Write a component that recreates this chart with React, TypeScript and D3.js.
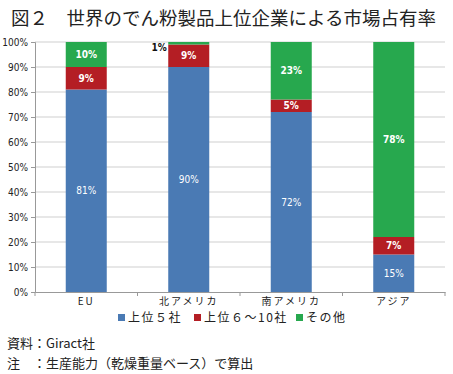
import { useEffect, useRef } from 'react';
import * as d3 from 'd3';

const categories = ['EU', '北アメリカ', '南アメリカ', 'アジア'];
const top5 = [81, 90, 72, 15];
const top6to10 = [9, 9, 5, 7];
const others = [10, 1, 23, 78];
const seriesNames = ['上位５社', '上位６～10社', 'その他'];
const seriesColors = ['#4a7ab4', '#b41e24', '#27a84e'];
const yTicks = [0, 10, 20, 30, 40, 50, 60, 70, 80, 90, 100];

const W = 453;
const H = 374;
const CJK = '"Noto Sans CJK JP", sans-serif';
const NARROW = '"Liberation Sans Narrow", "DejaVu Sans Condensed", sans-serif';

export default function App() {
  const svgRef = useRef<SVGSVGElement>(null);

  useEffect(() => {
    document.body.style.margin = '0';
    if (!svgRef.current) return;
    const svg = d3.select(svgRef.current);
    svg.selectAll('*').remove();

    const m = { top: 42, right: 8, bottom: 82, left: 35 };
    const width = W - m.left - m.right;
    const height = H - m.top - m.bottom;

    svg.append('rect').attr('width', W).attr('height', H).attr('fill', '#fff');

    // タイトル
    svg.append('text')
      .attr('x', 11).attr('y', 25)
      .attr('font-family', CJK).attr('font-size', 18.5).attr('fill', '#222')
      .text('図２　世界のでん粉製品上位企業による市場占有率');

    const g = svg.append('g').attr('transform', `translate(${m.left},${m.top})`);

    const x = d3.scaleBand().domain(categories).range([0, width]).paddingInner(0.6).paddingOuter(0.3);
    const y = d3.scaleLinear().domain([0, 100]).range([height, 0]);

    // グリッド
    g.append('g').selectAll('line').data(yTicks.filter(t => t > 0)).enter().append('line')
      .attr('x1', 0).attr('x2', width)
      .attr('y1', d => y(d)).attr('y2', d => y(d))
      .attr('stroke', '#cfcfcf').attr('stroke-width', 1);

    const rows = categories.map((c, i) => ({ c, vals: [top5[i], top6to10[i], others[i]] }));
    rows.forEach(r => {
      let acc = 0;
      r.vals.forEach((v, k) => {
        const y0 = acc, y1 = acc + v;
        acc = y1;
        g.append('rect')
          .attr('x', x(r.c)!).attr('width', x.bandwidth())
          .attr('y', y(y1)).attr('height', y(y0) - y(y1))
          .attr('fill', seriesColors[k]);
        const small = v < 3;
        g.append('text')
          .attr('x', small ? x(r.c)! - 9 : x(r.c)! + x.bandwidth() / 2)
          .attr('y', small ? y(y1) + 9 : y((y0 + y1) / 2) + 3.5)
          .attr('text-anchor', 'middle')
          .attr('font-family', NARROW).attr('font-size', 10)
          .attr('font-weight', k === 0 ? 'normal' : 'bold')
          .attr('fill', small ? '#111' : '#fff')
          .text(`${v}%`);
      });
    });

    // Y軸
    const yAxis = g.append('g')
      .call(d3.axisLeft(y).tickValues(yTicks).tickSize(4).tickFormat(d => `${d}%`));
    yAxis.selectAll('path, line').attr('stroke', '#999');
    yAxis.selectAll('text').attr('font-family', NARROW).attr('font-size', 10).attr('fill', '#222');

    // X軸
    const xAxis = g.append('g').attr('transform', `translate(0,${height})`)
      .call(d3.axisBottom(x).tickSize(0).tickSizeOuter(0).tickPadding(6));
    xAxis.select('path').attr('stroke', '#999');
    xAxis.selectAll('text').attr('font-family', CJK).attr('font-size', 10).attr('fill', '#222')
      .attr('letter-spacing', 2);
    const step = x.step();
    g.append('g').selectAll('line').data(d3.range(categories.length + 1).map(i => i * step)).enter().append('line')
      .attr('x1', d => d).attr('x2', d => d)
      .attr('y1', height).attr('y2', height + 4)
      .attr('stroke', '#999');

    // 凡例
    const legend = svg.append('g').attr('transform', 'translate(118,322)');
    const offs = [0, 76, 178];
    seriesNames.forEach((n, k) => {
      legend.append('rect').attr('x', offs[k]).attr('y', -8).attr('width', 7).attr('height', 7).attr('fill', seriesColors[k]);
      legend.append('text').attr('x', offs[k] + 10).attr('y', 0)
        .attr('font-family', CJK).attr('font-size', 12).attr('fill', '#222')
        .attr('letter-spacing', 1.5)
        .text(n);
    });

    // 注記
    svg.append('text').attr('x', 7).attr('y', 348)
      .attr('font-family', CJK).attr('font-size', 13).attr('fill', '#222')
      .text('資料：Giract社');
    svg.append('text').attr('x', 7).attr('y', 368)
      .attr('font-family', CJK).attr('font-size', 13).attr('fill', '#222')
      .text('注　：生産能力（乾燥重量ベース）で算出');
  }, []);

  return <svg ref={svgRef} width={W} height={H} style={{ display: 'block' }} />;
}
